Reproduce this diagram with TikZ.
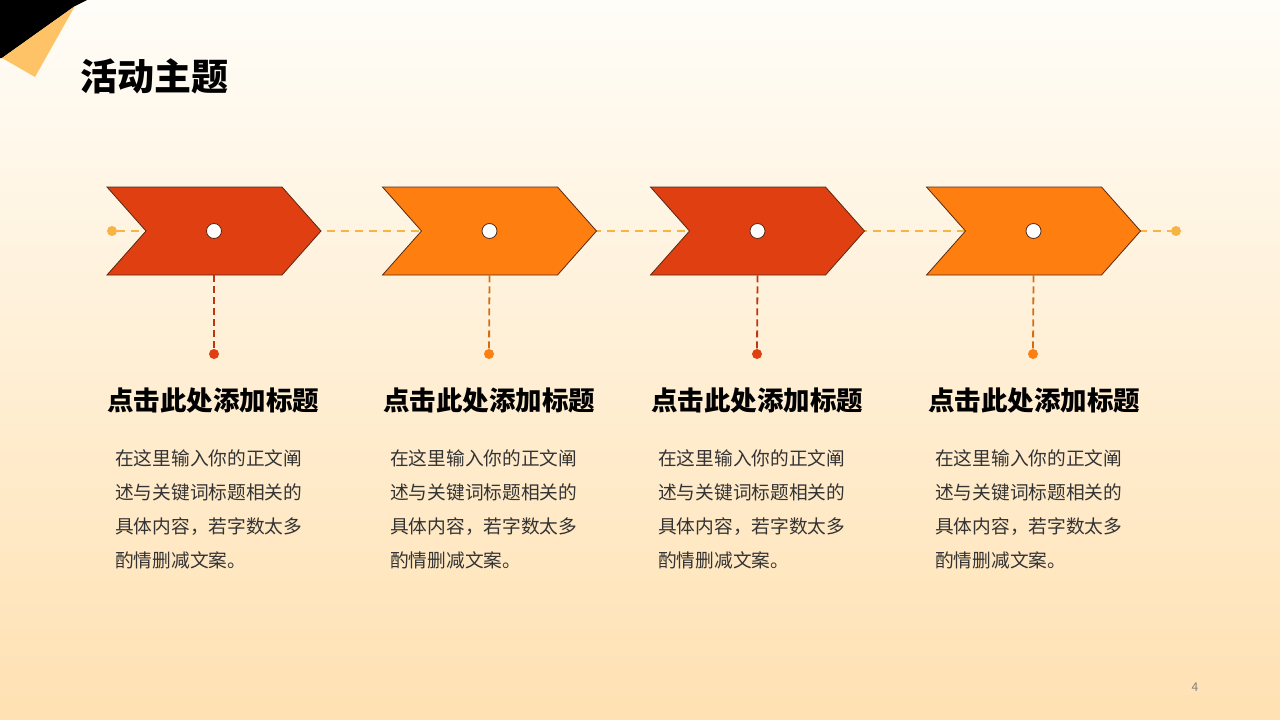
\documentclass[tikz,border=0pt]{standalone}
\usepackage{fontspec}
\setmainfont{Noto Sans CJK SC}
\usetikzlibrary{shapes.symbols,positioning}
\definecolor{redstep}{HTML}{E03F12}
\definecolor{orangestep}{HTML}{FE7F0F}
\definecolor{edgebrown}{HTML}{5A2812}
\definecolor{trackgold}{HTML}{F6B445}
\definecolor{cornergold}{HTML}{FDC366}
\definecolor{bodygray}{HTML}{333333}
\definecolor{skytop}{HTML}{FFFDF8}
\definecolor{skymid}{HTML}{FFF7EB}
\definecolor{skybottom}{HTML}{FFE1B2}
\tikzstyle{chevron}=[
	signal,
	signal to=east,
	signal from=west,
	signal pointer angle=96.9,
	minimum width=214pt,
	minimum height=88pt,
	inner sep=0pt,
	draw=edgebrown,
	line width=0.8pt
]
\tikzstyle{hub}=[
	circle,
	fill=white,
	draw=edgebrown,
	line width=0.8pt,
	minimum size=15pt,
	inner sep=0pt
]
\tikzstyle{trackdot}=[
	circle,
	fill=trackgold,
	minimum size=10pt,
	inner sep=0pt
]
\tikzstyle{dropdot}=[
	circle,
	minimum size=10pt,
	inner sep=0pt
]
\tikzstyle{track}=[
	draw=trackgold,
	line width=1.5pt,
	dash pattern=on 8pt off 6pt
]
\tikzstyle{drop}=[
	line width=1.8pt,
	dash pattern=on 7pt off 4pt
]
\tikzstyle{heading}=[
	anchor=base west,
	inner sep=0pt,
	font=\fontsize{26.5}{30}\selectfont\bfseries
]
\tikzstyle{body}=[
	anchor=north west,
	inner sep=0pt,
	align=left,
	text=bodygray,
	font=\fontsize{18.7}{34}\selectfont
]

\begin{document}
\begin{tikzpicture}[x=1pt,y=-1pt]
% background and corner
\shade[top color=skytop, middle color=skymid, bottom color=skybottom] (0,0) rectangle (1280,720);
\fill[black] (0,0) -- (87,0) -- (75,6) -- (2,58) -- (0,58) -- cycle;
\fill[cornergold] (2,58) -- (75,6) -- (35,77) -- cycle;
\node [anchor=base west, inner sep=0pt, font=\fontsize{37}{40}\selectfont\bfseries] (title) at (80,90) {活动主题};

% track
\node [trackdot] (start) at (112,231) {};
\node [trackdot] (end) at (1176,231) {};
\draw [track] (start) -- (end);

% steps
\node [chevron, fill=redstep] (step1) at (214,231) {};
\node [chevron, fill=orangestep] (step2) at (489.5,231) {};
\node [chevron, fill=redstep] (step3) at (757.5,231) {};
\node [chevron, fill=orangestep] (step4) at (1033.5,231) {};
\node [hub] (hub1) at (step1.center) {};
\node [hub] (hub2) at (step2.center) {};
\node [hub] (hub3) at (step3.center) {};
\node [hub] (hub4) at (step4.center) {};

% drops
\node [dropdot, fill=redstep] (pin1) at (214,354) {};
\node [dropdot, fill=orangestep] (pin2) at (489,354) {};
\node [dropdot, fill=redstep] (pin3) at (757,354) {};
\node [dropdot, fill=orangestep] (pin4) at (1033,354) {};
\draw [drop, draw=redstep!85!black] (step1.south) -- (pin1);
\draw [drop, draw=orangestep!85!black] (step2.south) -- (pin2);
\draw [drop, draw=redstep!85!black] (step3.south) -- (pin3);
\draw [drop, draw=orangestep!85!black] (step4.south) -- (pin4);

% texts
\node [heading] (head1) at (107,410) {点击此处添加标题};
\node [heading] (head2) at (383,410) {点击此处添加标题};
\node [heading] (head3) at (651,410) {点击此处添加标题};
\node [heading] (head4) at (928,410) {点击此处添加标题};
\node [body] (text1) at (115,449) {在这里输入你的正文阐\\述与关键词标题相关的\\具体内容，若字数太多\\酌情删减文案。};
\node [body] (text2) at (390,449) {在这里输入你的正文阐\\述与关键词标题相关的\\具体内容，若字数太多\\酌情删减文案。};
\node [body] (text3) at (658,449) {在这里输入你的正文阐\\述与关键词标题相关的\\具体内容，若字数太多\\酌情删减文案。};
\node [body] (text4) at (935,449) {在这里输入你的正文阐\\述与关键词标题相关的\\具体内容，若字数太多\\酌情删减文案。};

\node [anchor=base, inner sep=0pt, text=gray, font=\fontsize{12}{14}\selectfont] (page) at (1195,691) {4};
\end{tikzpicture}
\end{document}
